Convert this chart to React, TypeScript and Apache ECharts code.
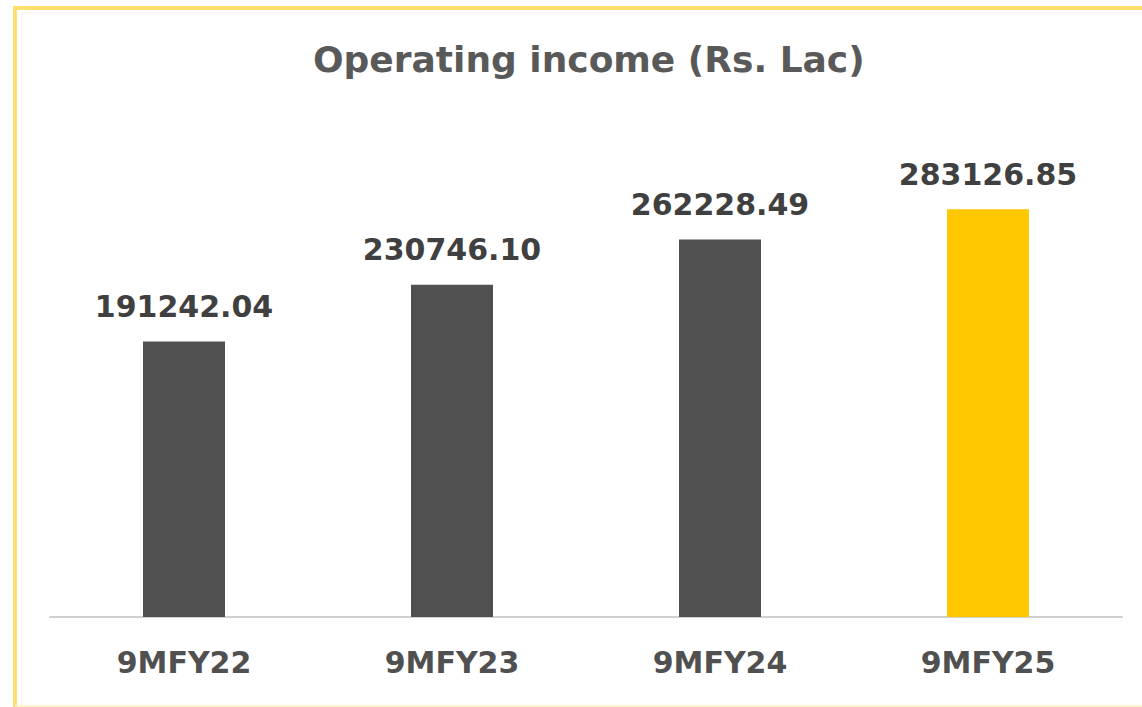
import React, { useEffect, useRef } from "react";
import * as echarts from "echarts";

const categories = ["9MFY22", "9MFY23", "9MFY24", "9MFY25"];
const values = [191242.04, 230746.1, 262228.49, 283126.85];
const barColors = ["#505050", "#505050", "#505050", "#FFC800"];
const titleText = "Operating income (Rs. Lac)";

export default function App() {
  const ref = useRef<HTMLDivElement>(null);
  useEffect(() => {
    if (!ref.current) return;
    const chart = echarts.init(ref.current, null, { renderer: "svg" });
    chart.setOption({
      animation: false,
      backgroundColor: "#ffffff",
      title: {
        text: titleText,
        left: 308,
        top: 36,
        textStyle: {
          fontFamily: "DejaVu Sans",
          fontWeight: "bold",
          fontSize: 36,
          color: "#595959",
        },
      },
      graphic: [
        { type: "rect", shape: { x: 22, y: 13, width: 1130, height: 700 }, style: { fill: "none", stroke: "#f2f2f2", lineWidth: 1 } },
        { type: "line", shape: { x1: 15, y1: 8, x2: 1142, y2: 8 }, style: { stroke: "#FFDF70", lineWidth: 4 } },
        { type: "line", shape: { x1: 15, y1: 6, x2: 15, y2: 707 }, style: { stroke: "#FFDF70", lineWidth: 4 } },
        { type: "line", shape: { x1: 15, y1: 706, x2: 1142, y2: 706 }, style: { stroke: "#FFF3C8", lineWidth: 2 } },
      ],
      grid: { left: 50, right: 20, top: 185, bottom: 90 },
      xAxis: {
        type: "category",
        data: categories,
        axisLine: { lineStyle: { color: "#D0D0D0", width: 2 } },
        axisTick: { show: false },
        axisLabel: {
          margin: 30,
          fontFamily: "DejaVu Sans",
          fontWeight: "bold",
          fontSize: 30,
          color: "#505050",
        },
      },
      yAxis: {
        type: "value",
        min: 0,
        max: 300000,
        show: false,
        splitLine: { show: false },
      },
      series: [
        {
          type: "bar",
          barWidth: 82,
          data: values.map((v, i) => ({ value: v, itemStyle: { color: barColors[i] } })),
          label: {
            show: true,
            position: "top",
            distance: 20,
            formatter: (p: any) => p.value.toFixed(2),
            fontFamily: "DejaVu Sans",
            fontWeight: "bold",
            fontSize: 30,
            color: "#404040",
          },
        },
      ],
    });
    return () => chart.dispose();
  }, []);
  return (
    <div
      ref={ref}
      style={{ position: "fixed", left: 0, top: 0, width: 1142, height: 707 }}
    />
  );
}
